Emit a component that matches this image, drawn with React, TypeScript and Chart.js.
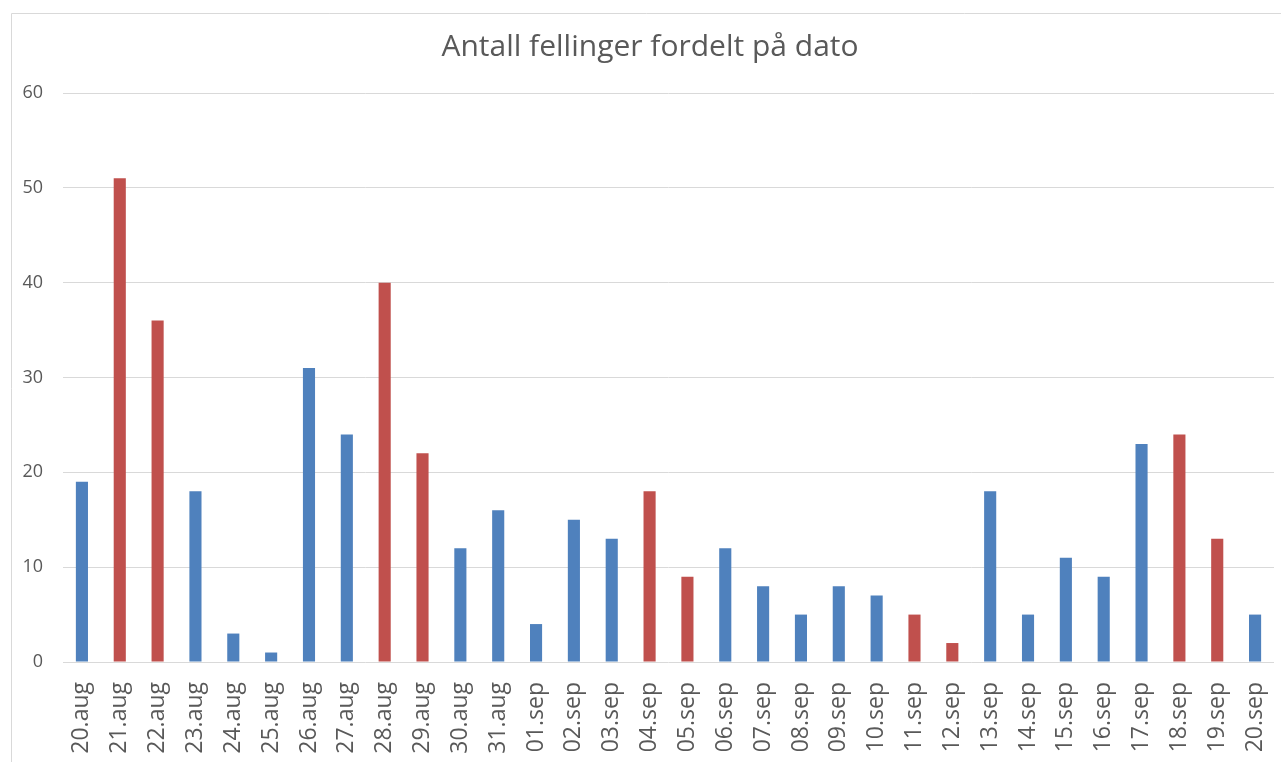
import React, { useEffect, useRef } from "react";
import { Chart, registerables } from "chart.js";

Chart.register(...registerables);

const categories = [
  "20.aug", "21.aug", "22.aug", "23.aug", "24.aug", "25.aug", "26.aug", "27.aug",
  "28.aug", "29.aug", "30.aug", "31.aug", "01.sep", "02.sep", "03.sep", "04.sep",
  "05.sep", "06.sep", "07.sep", "08.sep", "09.sep", "10.sep", "11.sep", "12.sep",
  "13.sep", "14.sep", "15.sep", "16.sep", "17.sep", "18.sep", "19.sep", "20.sep",
];

const values = [
  19, 51, 36, 18, 3, 1, 31, 24,
  40, 22, 12, 16, 4, 15, 13, 18,
  9, 12, 8, 5, 8, 7, 5, 2,
  18, 5, 11, 9, 23, 24, 13, 5,
];

// "r" = highlighted (red) bar, "b" = normal (blue) bar
const barKinds = [
  "b", "r", "r", "b", "b", "b", "b", "b",
  "r", "r", "b", "b", "b", "b", "b", "r",
  "r", "b", "b", "b", "b", "b", "r", "r",
  "b", "b", "b", "b", "b", "r", "r", "b",
];

const yTicks = [0, 10, 20, 30, 40, 50, 60];

const BLUE = "#4F81BD";
const RED = "#C0504D";
const TEXT = "#595959";
const GRID = "#D9D9D9";
const FONT = "'Open Sans', 'Liberation Sans', sans-serif";

export default function App() {
  const ref = useRef<HTMLCanvasElement | null>(null);

  useEffect(() => {
    if (!ref.current) return;
    const borderPlugin = {
      id: "outerBorder",
      beforeDraw(chart: any) {
        const ctx = chart.ctx;
        ctx.save();
        ctx.strokeStyle = GRID;
        ctx.lineWidth = 1;
        ctx.beginPath();
        ctx.moveTo(11.5, chart.height + 5);
        ctx.lineTo(11.5, 13.5);
        ctx.lineTo(chart.width + 5, 13.5);
        ctx.stroke();
        ctx.restore();
      },
      afterLayout(chart: any) {
        const t = chart.titleBlock;
        if (t) t.left = 26;
      },
    };
    const chart = new Chart(ref.current, {
      type: "bar",
      data: {
        labels: categories,
        datasets: [
          {
            data: values,
            backgroundColor: barKinds.map((k) => (k === "r" ? RED : BLUE)),
            barPercentage: 0.32,
            categoryPercentage: 1,
          },
        ],
      },
      options: {
        responsive: false,
        animation: false,
        layout: { padding: { left: 0, right: 7, top: 0, bottom: 0 } },
        plugins: {
          legend: { display: false },
          tooltip: { enabled: false },
          title: {
            display: true,
            text: "Antall fellinger fordelt på dato",
            color: TEXT,
            font: { family: FONT, size: 30, weight: "normal" },
            padding: { top: 29, bottom: 28 },
          },
        },
        scales: {
          x: {
            grid: { display: false, drawTicks: false },
            border: { display: false },
            ticks: {
              color: TEXT,
              font: { family: FONT, size: 23 },
              minRotation: 90,
              maxRotation: 90,
              autoSkip: false,
              padding: 20,
            },
            afterFit(scale: any) {
              scale.height = 100;
              scale.paddingLeft = 0;
              scale.paddingRight = 0;
            },
          },
          y: {
            min: 0,
            max: 60,
            afterBuildTicks(scale: any) {
              scale.ticks = yTicks.map((v) => ({ value: v }));
            },
            grid: { color: GRID, lineWidth: 1, drawTicks: false },
            border: { display: false },
            ticks: {
              color: TEXT,
              font: { family: FONT, size: 18 },
              padding: 20,
            },
            afterFit(scale: any) {
              scale.width = 63;
              scale.paddingTop = 0;
              scale.paddingBottom = 0;
            },
          },
        },
      },
      plugins: [borderPlugin],
    });
    return () => chart.destroy();
  }, []);

  return (
    <div style={{ position: "absolute", left: 0, top: 0, width: 1281, height: 762, background: "#fff" }}>
      <canvas ref={ref} width={1281} height={762} />
    </div>
  );
}
